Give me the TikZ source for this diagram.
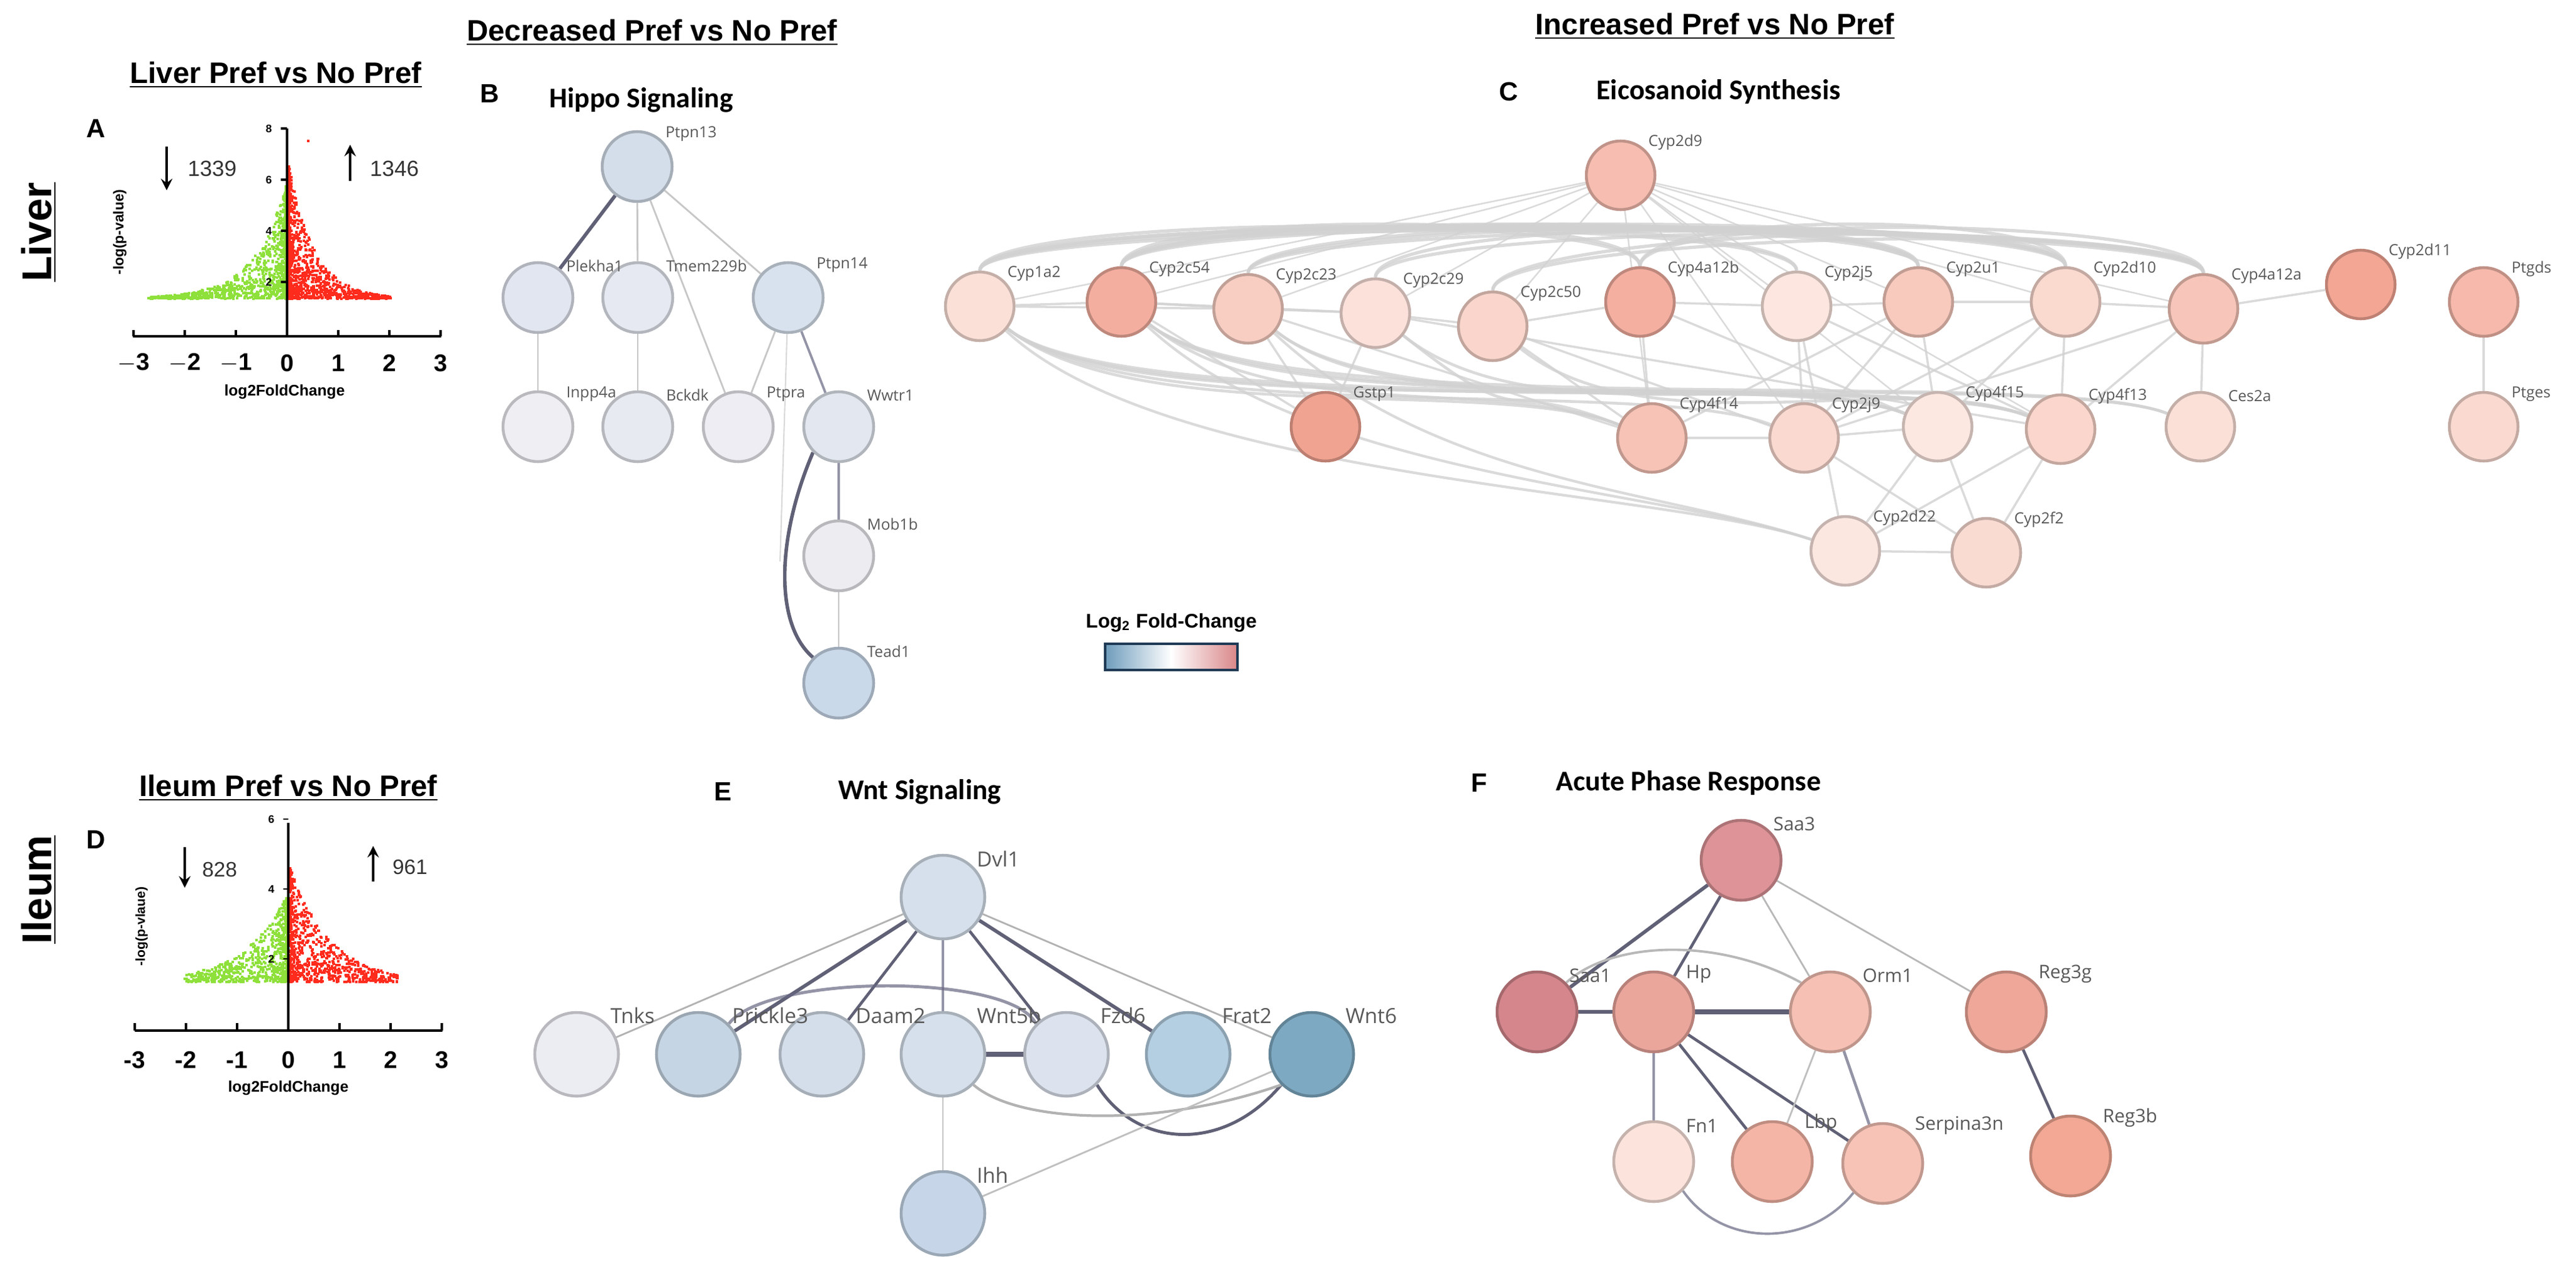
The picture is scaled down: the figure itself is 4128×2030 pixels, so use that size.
\documentclass[tikz,border=0pt]{standalone}
\usepackage{fontspec}
\setmainfont{Liberation Sans}
\newfontfamily\crlf{Carlito}
\newfontfamily\opnf{Open Sans}
\usetikzlibrary{backgrounds,calc}
\pgfdeclarelayer{edges}
\pgfdeclarelayer{lbl}
\pgfsetlayers{background,edges,main,lbl}
\newcommand\fs[1]{\fontsize{#1}{#1}\selectfont}
\newcommand\gnode[7]{% diameter name x y fill labelsize label
  \definecolor{tmp#2}{HTML}{#5}
  \node[circle,minimum size={#1*0.01cm},inner sep=0,fill=tmp#2,draw=tmp#2!78!black,line width=1.3pt] (#2) at (#3,#4) {};
  \begin{pgfonlayer}{lbl}
  \node[anchor=south west,inner sep=0,text=black!65,font={\opnf\fs{#6}}] at ($(#2)+(0.8*#1/2,-0.72*#1/2)$) {#7};
  \end{pgfonlayer}}
\begin{document}
\begin{tikzpicture}[x=0.01cm,y=-0.01cm,
  e1/.style={draw=black!22,line width=0.8pt},
  e2/.style={draw=black!45!blue!20!gray,line width=1.1pt,opacity=0.7},
  e3/.style={draw=black!65!blue!25!gray,line width=1.6pt},
  ee/.style={draw=black!18,line width=1pt,opacity=0.8},
  ttl/.style={font=\bfseries\fs{13.5pt}},
  ptl/.style={font=\crlf\bfseries\fs{13pt}},
  let/.style={font=\bfseries\fs{12pt}}]
\useasboundingbox (0,0) rectangle (4128,2030);
\definecolor{vg}{HTML}{8EE03A}\definecolor{vr}{HTML}{FF2B1C}
% ---------------- headings
\node[ttl] (h1) at (1045,52) {\underline{Decreased Pref vs No Pref}};
\node[ttl] (h2) at (2748,42) {\underline{Increased Pref vs No Pref}};
\node[ttl] (h3) at (442,120) {\underline{Liver Pref vs No Pref}};
\node[ttl] (h4) at (462,1263) {\underline{Ileum Pref vs No Pref}};
\node[rotate=90,font=\bfseries\fs{19pt}] (lv) at (62,372) {\underline{Liver}};
\node[rotate=90,font=\bfseries\fs{19pt}] (il) at (62,1426) {\underline{Ileum}};
\node[let] (la) at (154,206) {A};
\node[let] (ld) at (154,1346) {D};
\node[let] (lb) at (785,150) {B};
\node[let] (lc) at (2418,147) {C};
\node[let] (le) at (1159,1269) {E};
\node[let] (lf) at (2370,1255) {F};
\node[ptl,anchor=west] (tb) at (868,160) {Hippo Signaling};
\node[ptl] (tc) at (2754,147) {Eicosanoid Synthesis};
\node[ptl] (te) at (1474,1269) {Wnt Signaling};
\node[ptl] (tf) at (2706,1255) {Acute Phase Response};
% ---------------- volcano A
\pgfmathsetseed{11}
\foreach \i in {1,...,1100}{
  \pgfmathsetmacro\xx{-2.7*pow(rnd,3.2)}
  \pgfmathsetmacro\ym{4.4*exp(-1.6*abs(\xx))}
  \pgfmathsetmacro\yy{1.3+\ym*pow(rnd,1.3)}
  \fill[vg] ({460+82*\xx-4},{534-41*\yy}) rectangle ++(4,-4);}
\foreach \i in {1,...,1100}{
  \pgfmathsetmacro\xx{2.0*pow(rnd,3.2)}
  \pgfmathsetmacro\ym{5.2*exp(-2.0*abs(\xx))}
  \pgfmathsetmacro\yy{1.3+\ym*pow(rnd,1.5)}
  \fill[vr] ({460+82*\xx+1},{534-41*\yy}) rectangle ++(4,-4);}
\fill[vr] (492,224) rectangle ++(4,4);
\draw[line width=1pt] (460,206) -- (460,539) (213,539) -- (707,539);
\foreach \t [count=\k from -3] in {$-$3,$-$2,$-$1,0,1,2,3}{
  \draw[line width=1pt] ({460+82*\k},539) -- ++(0,-10);
  \node[font=\bfseries\fs{11pt}] at ({460+82*\k},582) {\t};}
\foreach \v in {2,4,6,8}{\draw[line width=1pt] (460,{534-41*\v}) -- ++(-10,0);
  \node[font=\bfseries\fs{5pt},anchor=east] at (448,{534-41*\v}) {\v};}
\node[font=\bfseries\fs{7pt}] at (456,628) {log2FoldChange};
\node[font=\bfseries\fs{6.5pt},rotate=90] at (192,372) {-log(p-value)};
\coordinate (av1) at (267,235); \coordinate (av2) at (267,305);
\draw[-stealth,line width=1.3pt] (av1) -- (av2);
\node[font=\fs{10pt},text=black!80] at (340,270) {1339};
\coordinate (av3) at (561,290); \coordinate (av4) at (561,232);
\draw[-stealth,line width=1.3pt] (av3) -- (av4);
\node[font=\fs{10pt},text=black!80] at (632,270) {1346};
% ---------------- volcano D
\foreach \i in {1,...,800}{
  \pgfmathsetmacro\xx{-2.0*pow(rnd,2.6)}
  \pgfmathsetmacro\ym{2.5*exp(-1.2*abs(\xx))}
  \pgfmathsetmacro\yy{1.3+\ym*pow(rnd,1.3)}
  \fill[vg] ({462+82*\xx-4},{1649-56*\yy}) rectangle ++(4,-4);}
\foreach \i in {1,...,800}{
  \pgfmathsetmacro\xx{2.1*pow(rnd,2.6)}
  \pgfmathsetmacro\ym{3.3*exp(-1.3*abs(\xx))}
  \pgfmathsetmacro\yy{1.3+\ym*pow(rnd,1.3)}
  \fill[vr] ({462+82*\xx+1},{1649-56*\yy}) rectangle ++(4,-4);}
\draw[line width=1pt] (462,1319) -- (462,1652) (216,1652) -- (709,1652);
\foreach \t [count=\k from -3] in {-3,-2,-1,0,1,2,3}{
  \draw[line width=1pt] ({462+82*\k},1652) -- ++(0,-12);
  \node[font=\bfseries\fs{11pt}] at ({462+82*\k},1699) {\t};}
\foreach \v in {2,4,6}{\draw[line width=0.8pt] (462,{1649-56*\v}) -- ++(-8,0);
  \node[font=\bfseries\fs{5pt},anchor=east] at (452,{1649-56*\v}) {\v};}
\node[font=\bfseries\fs{7pt}] at (462,1744) {log2FoldChange};
\node[font=\bfseries\fs{6pt},rotate=90] at (227,1485) {-log(p-vlaue)};
\coordinate (dv1) at (296,1358); \coordinate (dv2) at (296,1423);
\draw[-stealth,line width=1.3pt] (dv1) -- (dv2);
\node[font=\fs{9.5pt},text=black!80] at (352,1394) {828};
\coordinate (dv3) at (598,1413); \coordinate (dv4) at (598,1356);
\draw[-stealth,line width=1.3pt] (dv3) -- (dv4);
\node[font=\fs{9.5pt},text=black!80] at (657,1390) {961};
% ---------------- B Hippo
\def\r{112}
\gnode{\r}{ptn13}{1021}{267}{D3DEEA}{7pt}{Ptpn13}
\gnode{\r}{plek}{862}{477}{E2E6F0}{7pt}{Plekha1}
\gnode{\r}{tmem}{1022}{477}{E6E9F1}{7pt}{Tmem229b}
\gnode{\r}{ptn14}{1263}{477}{D8E2EE}{7pt}{Ptpn14}
\gnode{\r}{inpp}{862}{684}{EEEEF3}{7pt}{Inpp4a}
\gnode{\r}{bck}{1022}{684}{E8EAF2}{7pt}{Bckdk}
\gnode{\r}{ptpra}{1183}{684}{EDEDF3}{7pt}{Ptpra}
\gnode{\r}{wwtr}{1344}{684}{E2E7F0}{7pt}{Wwtr1}
\gnode{\r}{mob}{1344}{891}{ECECF1}{7pt}{Mob1b}
\gnode{\r}{tead}{1344}{1095}{C9D9EA}{7pt}{Tead1}
\begin{pgfonlayer}{edges}
\draw[e3] (ptn13) -- (plek);
\draw[e1] (ptn13) -- (tmem); \draw[e1] (ptn13) -- (ptpra); \draw[e1] (ptn13) -- (ptn14);
\draw[e1] (plek) -- (inpp); \draw[e1] (tmem) -- (bck);
\draw[e1] (ptn14) -- (ptpra); \draw[e2] (ptn14) -- (wwtr);
\coordinate (pend) at (1250,900);
\draw[draw=black!15,line width=0.6pt] (ptn14) -- (pend);
\draw[e2] (wwtr) -- (mob); \draw[e1] (mob) -- (tead);
\draw[e3] (wwtr.south west) .. controls (1245,860) and (1240,1000) .. (tead.north west);
\end{pgfonlayer}
% ---------------- C Eicosanoid
\def\r{110}
\gnode{\r}{d9}{2597}{281}{F6BDB0}{7pt}{Cyp2d9}
\gnode{\r}{a2}{1570}{491}{FBE0D8}{7pt}{Cyp1a2}
\gnode{\r}{c54}{1797}{484}{F4AE9F}{7pt}{Cyp2c54}
\gnode{\r}{c23}{2000}{495}{F8CDC2}{7pt}{Cyp2c23}
\gnode{\r}{c29}{2204}{502}{FBE1DA}{7pt}{Cyp2c29}
\gnode{\r}{c50}{2392}{523}{F9D5CB}{7pt}{Cyp2c50}
\gnode{\r}{a12b}{2628}{484}{F4AFA0}{7pt}{Cyp4a12b}
\gnode{\r}{j5}{2879}{491}{FCE6DF}{7pt}{Cyp2j5}
\gnode{\r}{u1}{3074}{484}{F8C9BD}{7pt}{Cyp2u1}
\gnode{\r}{d10}{3310}{484}{FAD9CF}{7pt}{Cyp2d10}
\gnode{\r}{a12a}{3531}{495}{F7C5B9}{7pt}{Cyp4a12a}
\gnode{\r}{d11}{3783}{456}{F3A694}{7pt}{Cyp2d11}
\gnode{\r}{pgds}{3980}{484}{F6B9AB}{7pt}{Ptgds}
\gnode{\r}{gst}{2124}{684}{F1A391}{7pt}{Gstp1}
\gnode{\r}{f14}{2647}{702}{F7C3B6}{7pt}{Cyp4f14}
\gnode{\r}{j9}{2891}{702}{FAD9D0}{7pt}{Cyp2j9}
\gnode{\r}{f15}{3105}{684}{FCE7E1}{7pt}{Cyp4f15}
\gnode{\r}{f13}{3302}{688}{FAD6CC}{7pt}{Cyp4f13}
\gnode{\r}{ces}{3526}{684}{FBE0D8}{7pt}{Ces2a}
\gnode{\r}{pges}{3980}{684}{FADAD0}{7pt}{Ptges}
\gnode{\r}{d22}{2957}{883}{FCE6E0}{7pt}{Cyp2d22}
\gnode{\r}{f2}{3183}{886}{FADBD2}{7pt}{Cyp2f2}
\begin{pgfonlayer}{edges}
\foreach \n in {a2,c54,c23,c29,c50,j5,u1,d10,a12a,f14,j9,f15,f13}{\draw[ee,line width=0.7pt] (d9) -- (\n);}
\foreach \a/\b in {a2/u1,a2/d10,a2/a12a,a2/j5,c54/u1,c54/d10,c54/a12a,c23/d10,c23/a12a,c29/a12a,c29/u1,c50/d10,c50/a12a,a12b/a12a,a12b/d10,c23/u1,c54/j5,a2/a12b,c54/a12b}{
  \draw[ee,line width=1.5pt] (\a.north) .. controls ($(\a.north)+(0,-90)$) and ($(\b.north)+(0,-90)$) .. (\b.north);}
\foreach \a/\b in {a2/f13,a2/f15,a2/f14,a2/j9,c54/f13,c54/f15,c54/f14,c23/f15,c23/f13,c29/f15,c29/f14,c50/f13,a2/ces,c54/ces}{
  \draw[ee,line width=1.3pt] (\a) .. controls ($(\a)+(250,200)$) and ($(\b)+(-250,-100)$) .. (\b);}
\foreach \a/\b in {a2/d22,c54/d22,c23/d22}{
  \draw[ee,line width=1.2pt] (\a) .. controls ($(\a)+(300,280)$) and ($(\b)+(-300,-100)$) .. (\b);}
\foreach \a/\b in {a2/c54,c54/c23,c23/c29,c29/c50,c50/a12b,a12b/j5,j5/u1,u1/d10,d10/a12a,a12a/d11,c54/gst,c23/gst,c29/gst,c50/f14,a12b/f14,j5/j9,u1/j9,u1/f15,d10/f13,d10/f15,a12a/f13,a12a/ces,a12a/j9,j5/f13,u1/f14,d10/j9,c50/j9,a12b/f15,j9/f15,f14/j9,f15/d22,f15/f2,f13/d22,f13/f2,j9/f2,d22/f2,j5/d22,c23/f14,c29/f13,c54/c29,a2/c23}{
  \draw[ee] (\a) -- (\b);}
\draw[ee] (pgds) -- (pges);
\end{pgfonlayer}
% legend
\node[font=\bfseries\fs{9pt},anchor=south] (lg) at (1877,1026) {Log\textsubscript{2} Fold-Change};
\definecolor{lb}{HTML}{6E9CBC}\definecolor{lr}{HTML}{D98688}\definecolor{ln}{HTML}{1F3A55}
\shade[left color=lb,right color=white] (1771,1032) rectangle (1877,1074);
\shade[left color=white,right color=lr] (1877,1032) rectangle (1983,1074);
\draw[ln,line width=1.4pt] (1771,1032) rectangle (1983,1074);
% ---------------- E Wnt
\def\r{134}
\gnode{\r}{dvl}{1511}{1438}{D6E0EC}{9.5pt}{Dvl1}
\node[anchor=south west,inner sep=0,text=black!65,font={\opnf\fs{9.5pt}}] (w5l) at (1565,1642) {Wnt5b};
\gnode{\r}{tnk}{924}{1690}{ECECF3}{9.5pt}{Tnks}
\gnode{\r}{pr}{1119}{1690}{C6D5E3}{9.5pt}{Prickle3}
\gnode{\r}{da}{1317}{1690}{D3DEEA}{9.5pt}{Daam2}
\gnode{\r}{w5}{1511}{1690}{D6E0EC}{9.5pt}{}
\gnode{\r}{fz}{1709}{1690}{DDE3EE}{9.5pt}{Fzd6}
\gnode{\r}{fr}{1904}{1690}{B4CEE2}{9.5pt}{Frat2}
\gnode{\r}{w6}{2102}{1690}{7EA9C2}{9.5pt}{Wnt6}
\gnode{\r}{ihh}{1511}{1945}{C6D6E8}{9.5pt}{Ihh}
\begin{pgfonlayer}{edges}
\draw[e1,draw=black!30] (dvl) -- (tnk); \draw[e3] (dvl) -- (pr); \draw[e3,line width=1.3pt] (dvl) -- (da);
\draw[e2] (dvl) -- (w5); \draw[e3,line width=1.3pt] (dvl) -- (fz); \draw[e3] (dvl) -- (fr);
\draw[e1,draw=black!30] (dvl) -- (w6);
\draw[e2,line width=1.4pt] (pr.north east) .. controls (1230,1560) and (1620,1560) .. (fz.north west);
\draw[e3,line width=2.2pt] (w5) -- (fz);
\draw[e3,line width=1.4pt] (fz.south east) .. controls (1820,1840) and (1960,1850) .. (w6.south west);
\draw[e1,draw=black!30,line width=1.2pt] (w5.south east) .. controls (1630,1800) and (1850,1810) .. (w6.south west);
\draw[e1,draw=black!22,line width=0.6pt] (w5) -- (ihh);
\draw[e1,draw=black!25] (ihh) -- (w6);
\end{pgfonlayer}
% ---------------- F Acute phase
\def\r{128}
\gnode{\r}{saa3}{2790}{1379}{DD9397}{8.5pt}{Saa3}
\gnode{\r}{saa1}{2463}{1622}{D4868C}{8.5pt}{Saa1}
\gnode{\r}{hp}{2650}{1622}{EBA69C}{8.5pt}{Hp}
\gnode{\r}{orm}{2933}{1622}{F6C0B4}{8.5pt}{Orm1}
\gnode{\r}{r3g}{3215}{1622}{EEA799}{8.5pt}{Reg3g}
\gnode{\r}{fn}{2650}{1862}{FCE4DC}{8.5pt}{Fn1}
\gnode{\r}{lbp}{2840}{1862}{F5B5A6}{8.5pt}{Lbp}
\gnode{\r}{ser}{3017}{1865}{F7C3B6}{8.5pt}{Serpina3n}
\gnode{\r}{r3b}{3318}{1853}{F2A894}{8.5pt}{Reg3b}
\begin{pgfonlayer}{edges}
\draw[e3] (saa3) -- (saa1); \draw[e3,line width=1.3pt] (saa3) -- (hp);
\draw[e1,draw=black!28] (saa3) -- (orm); \draw[e1,draw=black!28] (saa3) -- (r3g);
\draw[e3] (saa1) -- (hp); \draw[e3,line width=2.2pt] (hp) -- (orm);
\draw[e1,draw=black!28,line width=1.1pt] (saa1.north east) .. controls (2580,1510) and (2750,1500) .. (orm.north west);
\draw[e2] (hp) -- (fn); \draw[e3,line width=1.3pt] (hp) -- (lbp); \draw[e3,line width=1.3pt] (hp) -- (ser);
\draw[e1,draw=black!25] (orm) -- (lbp); \draw[e2,line width=1.3pt] (orm) -- (ser);
\draw[e2] (fn.south east) .. controls (2760,2000) and (2900,2000) .. (ser.south west);
\draw[e3,line width=1.3pt] (r3g) -- (r3b);
\end{pgfonlayer}
\end{tikzpicture}
\end{document}
